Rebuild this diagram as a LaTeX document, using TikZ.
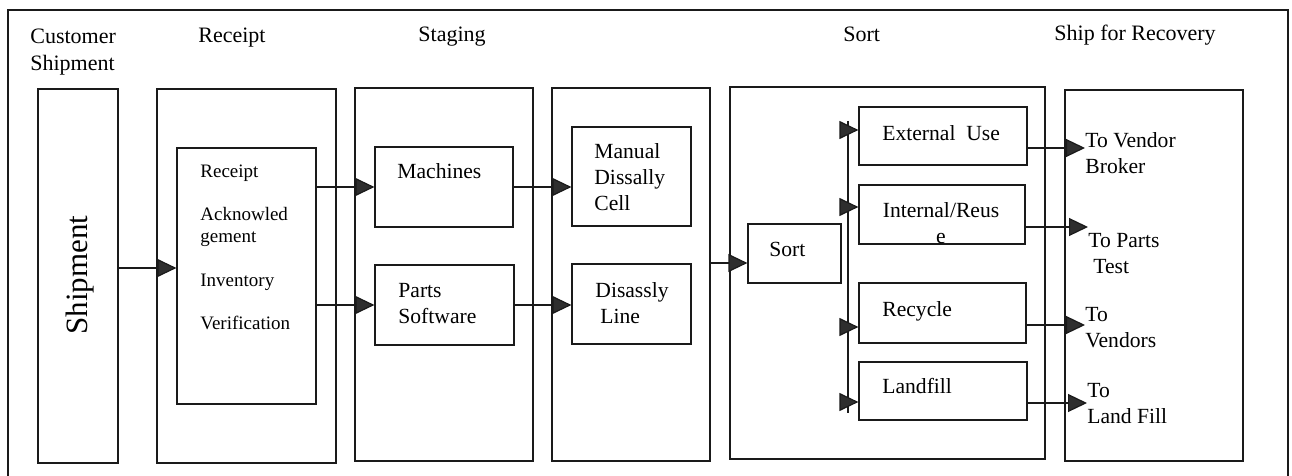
\documentclass[tikz,border=0pt]{standalone}
\usepackage{fontspec}
\setmainfont{Liberation Serif}
\usetikzlibrary{arrows.meta, fit, positioning}

\begin{document}
\begin{tikzpicture}[
    x=0.5pt, y=-0.5pt,
    every node/.style={font=\rmfamily},
    box/.style={draw=linecolor, line width=0.6pt, inner sep=0pt},
    wire/.style={draw=linecolor, line width=0.6pt},
    head/.style={font=\fontsize{11}{13.5}\selectfont, align=left,
                 anchor=north west, inner sep=0pt},
    txt/.style={font=\fontsize{10.8}{13}\selectfont, align=left,
                anchor=north west, inner sep=0pt},
    flow/.style={wire, -{Triangle[length=9.5pt, width=9pt, fill=tipcolor]}},
]

\definecolor{linecolor}{HTML}{1A1A1A}
\definecolor{tipcolor}{HTML}{2E2E2E}

\useasboundingbox (0,0) rectangle (1292,476);

% ---------------------------------------------------------------- frame
\draw[wire] (8,476) -- (8,10) -- (1288,10) -- (1288,476);

% ---------------------------------------------------------------- column titles
\node[head] (h-cust) at (30,29)   {Customer\\Shipment};
\node[head] (h-rcv)  at (198,28)  {Receipt};
\node[head] (h-stg)  at (418,27)  {Staging};
\node[head] (h-srt)  at (843,27)  {Sort};
\node[head] (h-rec)  at (1054,25) {Ship for Recovery};

% ---------------------------------------------------------------- columns
\node[box, fit={(38,89) (118,463)}]   (shp) {};
\node[box, fit={(157,89) (336,463)}]  (rcv) {};
\node[box, fit={(355,88) (533,461)}]  (stg) {};
\node[box, fit={(552,88) (710,461)}]  (dis) {};
\node[box, fit={(730,87) (1045,459)}] (srt) {};
\node[box, fit={(1065,90) (1243,461)}] (rec) {};

\node[font=\fontsize{15.5}{18}\selectfont, rotate=90] (t-shp) at (80,275) {Shipment};

% ---------------------------------------------------------------- inner boxes
\node[box, fit={(177,148) (316,404)}]  (rin) {};
\node[box, fit={(375,147) (513,227)}]  (mach) {};
\node[box, fit={(375,265) (514,345)}]  (parts) {};
\node[box, fit={(572,127) (691,226)}]  (man) {};
\node[box, fit={(572,264) (691,344)}]  (dline) {};
\node[box, fit={(748,224) (841,283)}]  (sbox) {};
\node[box, fit={(859,107) (1027,165)}] (ext) {};
\node[box, fit={(859,185) (1025,244)}] (int) {};
\node[box, fit={(859,283) (1026,343)}] (recy) {};
\node[box, fit={(859,362) (1027,420)}] (land) {};

\node[txt, font=\fontsize{9.5}{11}\selectfont] (t-rin) at (200,165)
    {Receipt\\[10.5pt] Acknowled\\gement\\[11pt] Inventory\\[10.5pt] Verification};
\node[txt] (t-mach)  at (397,163) {Machines};
\node[txt] (t-parts) at (398,283) {Parts\\Software};
\node[txt] (t-man)   at (594,143) {Manual\\Dissally\\Cell};
\node[txt] (t-dline) at (595,282) {Disassly\\\hspace{2.5pt}Line};
\node[txt] (t-sbox)  at (769,242) {Sort};
\node[txt] (t-ext)   at (882,125) {External\ \ Use};
\node[txt, align=center, anchor=north] (t-int) at (941,202) {Internal/Reus\\e};
\node[txt] (t-recy)  at (882,301) {Recycle};
\node[txt] (t-land)  at (882,378) {Landfill};

% ---------------------------------------------------------------- destinations
\node[txt] (vb) at (1085,132) {To Vendor\\Broker};
\node[txt] (pt) at (1088,233) {To Parts\\\hspace{2.5pt}Test};
\node[txt] (vd) at (1085,307) {To\\Vendors};
\node[txt] (lf) at (1087,383) {To\\Land Fill};

% ---------------------------------------------------------------- flow arrows
\draw[flow] ([yshift=4pt]shp.east) -- ([yshift=4pt]shp.east -| rin.west);
\draw[flow] (rin.east |- mach.west) -- (mach.west);
\draw[flow] (rin.east |- parts.west) -- (parts.west);
\draw[flow] (mach.east) -- (mach.east -| man.west);
\draw[flow] (parts.east) -- (parts.east -| dline.west);
\draw[flow] ([yshift=-4.75pt]sbox.west -| dis.east) -- ([yshift=-4.75pt]sbox.west);

% sort bus feeding the four outlets
\coordinate (bt) at (848,121);
\coordinate (bb) at (848,413);
\coordinate (b1) at (848,130);
\coordinate (b2) at (848,207);
\coordinate (b3) at (848,327);
\coordinate (b4) at (848,402);
\draw[wire] (bt) -- (bb);
\draw[flow] (b1) -- (b1 -| ext.west);
\draw[flow] (b2) -- (b2 -| int.west);
\draw[flow] (b3) -- (b3 -| recy.west);
\draw[flow] (b4) -- (b4 -| land.west);

\draw[flow] ([yshift=-6pt]ext.east)     -- ([yshift=-6pt]ext.east -| vb.west);
\draw[flow] ([yshift=-6.25pt]int.east)  -- ([yshift=-6.25pt]int.east -| pt.west);
\draw[flow] ([yshift=-6pt]recy.east)    -- ([yshift=-6pt]recy.east -| vd.west);
\draw[flow] ([yshift=-6pt]land.east)    -- ([yshift=-6pt]land.east -| lf.west);

\end{tikzpicture}
\end{document}
